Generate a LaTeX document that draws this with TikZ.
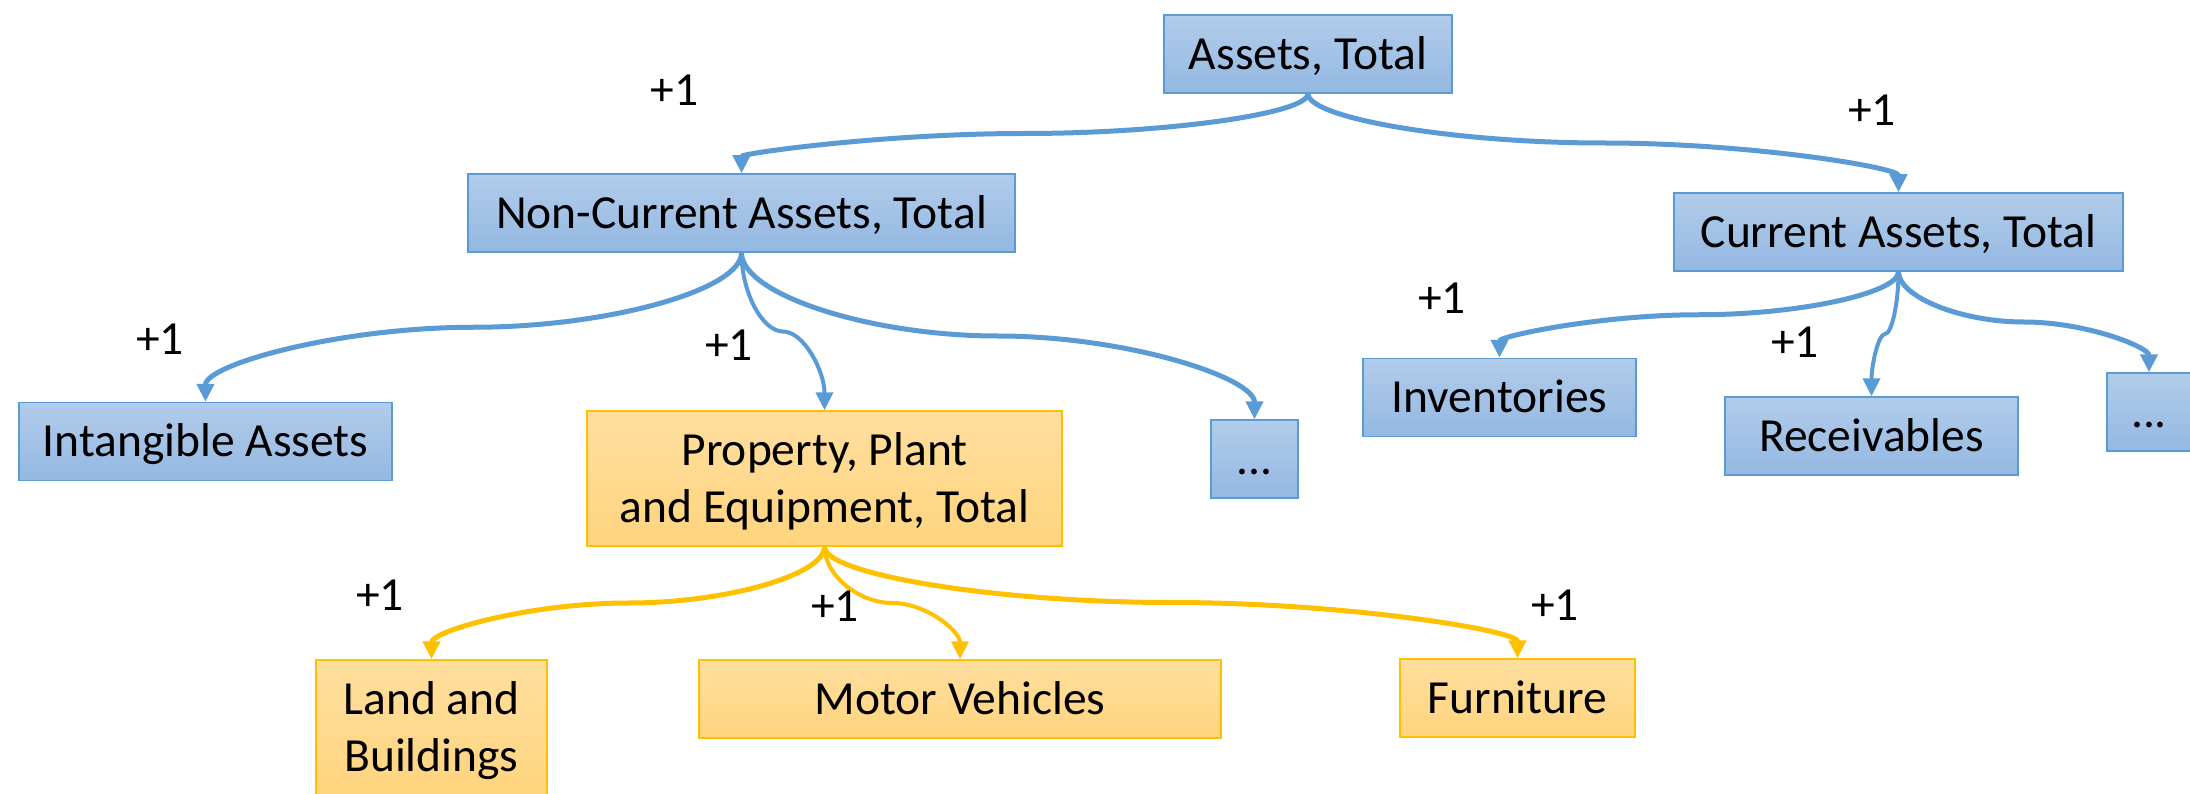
\documentclass[tikz,border=0pt]{standalone}
\usepackage{fontspec}
\setmainfont{Carlito}
\usetikzlibrary{arrows.meta,calc}

\definecolor{lineblue}{RGB}{91,155,213}
\definecolor{blueTop}{RGB}{178,204,234}
\definecolor{blueBot}{RGB}{148,184,226}
\definecolor{linegold}{RGB}{255,192,0}
\definecolor{goldTop}{RGB}{255,222,158}
\definecolor{goldBot}{RGB}{255,212,126}

\tikzset{
  box/.style={line width=1.5pt, inner sep=0pt, minimum height=78pt,
    text height=30.6pt, text depth=0pt, font=\fontsize{47.5}{57}\selectfont},
  bluebox/.style={box, draw=lineblue, top color=blueTop, bottom color=blueBot},
  goldbox/.style={box, draw=linegold, top color=goldTop, bottom color=goldBot},
  tallbox/.style={minimum height=135pt, text depth=57pt},
  plusone/.style={inner sep=0pt, text height=30pt, text depth=0pt,
    font=\fontsize{47.5}{57}\selectfont},
  link/.style={line width=5pt, -{Triangle[length=18pt,width=17pt]}},
  slim/.style={line width=4pt},
  bluelink/.style={link, draw=lineblue},
  goldlink/.style={link, draw=linegold},
}

% curved elbow connector: vertical at both ends, horizontal at mid height
\newcommand{\elbowlink}[3]{%
  \draw[#1] let \p1=(#2.south), \p2=(#3.north) in
    (\p1) .. controls (\x1,{\y1+(\y2-\y1)/4}) and ({\x1+(\x2-\x1)/4},{(\y1+\y2)/2})
    .. ({(\x1+\x2)/2},{(\y1+\y2)/2})
    .. controls ({\x1+3*(\x2-\x1)/4},{(\y1+\y2)/2}) and (\x2,{\y1+3*(\y2-\y1)/4})
    .. (\p2);}

\begin{document}
\begin{tikzpicture}
\useasboundingbox (0pt,0pt) rectangle (2190pt,-794pt);

% boxes
\node[bluebox, minimum width=288pt] (assets) at (1308pt,-54pt) {Assets, Total};
\node[bluebox, minimum width=547pt] (noncur) at (741.5pt,-213pt) {Non-Current Assets, Total};
\node[bluebox, minimum width=449pt] (cur) at (1898.5pt,-232pt) {Current Assets, Total};
\node[bluebox, minimum width=373pt] (intang) at (205.5pt,-441.5pt) {Intangible Assets};
\node[goldbox, tallbox, minimum width=475pt] (ppe) at (824.5pt,-478.5pt)
  {\parbox[t]{470pt}{\centering Property, Plant\\and Equipment, Total}};
\node[bluebox, minimum width=87pt] (moreA) at (1254.5pt,-459pt) {...};
\node[bluebox, minimum width=273pt] (inv) at (1499.5pt,-397.5pt) {Inventories};
\node[bluebox, minimum width=293pt] (rec) at (1871.5pt,-436pt) {Receivables};
\node[bluebox, minimum width=84pt] (moreB) at (2149pt,-412pt) {...};
\node[goldbox, tallbox, minimum width=231pt] (land) at (431.5pt,-727.5pt)
  {\parbox[t]{225pt}{\centering Land and\\Buildings}};
\node[goldbox, minimum width=522pt] (motor) at (960pt,-699pt) {Motor Vehicles};
\node[goldbox, minimum width=235pt] (furn) at (1517.5pt,-698pt) {Furniture};

% connectors
\elbowlink{bluelink}{assets}{noncur}
\elbowlink{bluelink}{assets}{cur}
\elbowlink{bluelink}{noncur}{intang}
\elbowlink{bluelink, slim}{noncur}{ppe}
\elbowlink{bluelink}{noncur}{moreA}
\elbowlink{bluelink}{cur}{inv}
\elbowlink{bluelink, slim}{cur}{rec}
\elbowlink{bluelink}{cur}{moreB}
\elbowlink{goldlink}{ppe}{land}
\elbowlink{goldlink, slim}{ppe}{motor}
\elbowlink{goldlink}{ppe}{furn}

% increments
\node[plusone] (pNon) at (674.5pt,-91pt) {+1};
\node[plusone] (pCur) at (1872pt,-111pt) {+1};
\node[plusone] (pInt) at (160pt,-340pt) {+1};
\node[plusone] (pPpe) at (729pt,-345pt) {+1};
\node[plusone] (pInv) at (1442pt,-299pt) {+1};
\node[plusone] (pRec) at (1795pt,-342pt) {+1};
\node[plusone] (pLand) at (380pt,-595pt) {+1};
\node[plusone] (pMot) at (835pt,-606pt) {+1};
\node[plusone] (pFur) at (1555pt,-605pt) {+1};
\end{tikzpicture}
\end{document}
